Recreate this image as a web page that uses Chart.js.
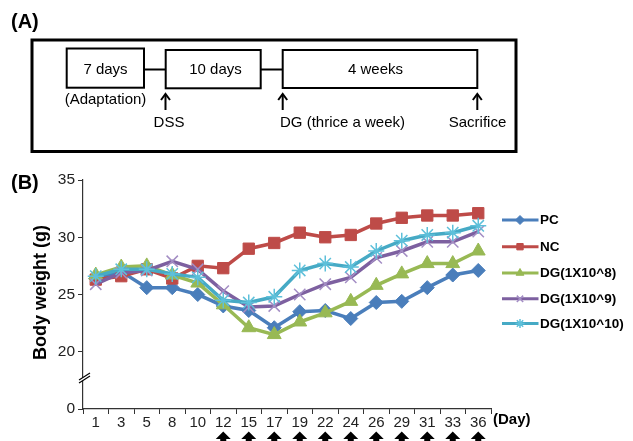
<!DOCTYPE html>
<html>
<head>
<meta charset="utf-8">
<script src="https://cdn.jsdelivr.net/npm/chart.js@4.4.1/dist/chart.umd.min.js"></script>
<style>
  html, body { margin: 0; padding: 0; background: #fff; }
  #wrap { position: relative; width: 633px; height: 441px; }
</style>
</head>
<body>
<div id="wrap"><canvas id="chart" width="633" height="441"></canvas></div>
<script>
// Day labels on the x axis
const days = ["1", "3", "5", "8", "10", "12", "15", "17", "19", "22", "24", "26", "29", "31", "33", "36"];
// Body weight (g) per group
const pcWeight   = [26.4, 27.0, 25.6, 25.6, 25.0, 24.0, 23.6, 22.1, 23.5, 23.6, 22.9, 24.3, 24.4, 25.6, 26.7, 27.1];
const ncWeight   = [26.3, 26.6, 27.2, 26.4, 27.5, 27.3, 29.0, 29.5, 30.4, 30.0, 30.2, 31.2, 31.7, 31.9, 31.9, 32.1];
const dg8Weight  = [26.7, 27.4, 27.5, 26.7, 26.0, 24.1, 22.1, 21.5, 22.6, 23.4, 24.4, 25.8, 26.8, 27.7, 27.7, 28.8];
const dg9Weight  = [25.9, 26.9, 27.1, 27.9, 27.2, 25.3, 23.9, 24.0, 25.0, 25.9, 26.5, 28.2, 28.8, 29.6, 29.6, 30.5];
const dg10Weight = [26.6, 27.2, 27.2, 26.8, 26.5, 24.5, 24.3, 24.8, 27.1, 27.7, 27.4, 28.8, 29.7, 30.2, 30.4, 31.0];
const seriesNames = ["PC", "NC", "DG(1X10^8)", "DG(1X10^9)", "DG(1X10^10)"];
// DG dosing days (arrows under the axis)
const doseDays = ["12", "15", "17", "19", "22", "24", "26", "29", "31", "33", "36"];
// Timeline of panel A
const stepLabels = ["7 days", "10 days", "4 weeks"];
const eventLabels = ["DSS", "DG (thrice a week)", "Sacrifice"];

const FONT = "Arial, 'Liberation Sans', sans-serif";

function makeSet(label, data, color, style, radius, markColor, bw) {
  return {
    label: label,
    data: data,
    borderColor: color,
    backgroundColor: color,
    borderWidth: 3.5,
    pointStyle: style,
    pointRadius: radius,
    pointBackgroundColor: markColor,
    pointBorderColor: markColor,
    pointBorderWidth: bw,
    tension: 0
  };
}

const datasets = [
  makeSet(seriesNames[0], pcWeight, "#4A7EBB", "rectRot", 7, "#4A7EBB", 1),
  makeSet(seriesNames[1], ncWeight, "#BE4B48", "rect", 8, "#BE4B48", 1),
  makeSet(seriesNames[2], dg8Weight, "#98B954", "triangle", 8, "#98B954", 1),
  makeSet(seriesNames[3], dg9Weight, "#7D60A0", "crossRot", 8, "#A38DC4", 1.5),
  makeSet(seriesNames[4], dg10Weight, "#46AAC5", "star", 8, "#5EC0DA", 1.5)
];
// later series drawn on top
datasets.forEach((d, i) => { d.order = datasets.length - i; });

function line(ctx, x1, y1, x2, y2) {
  ctx.beginPath();
  ctx.moveTo(x1, y1);
  ctx.lineTo(x2, y2);
  ctx.stroke();
}

function upArrow(ctx, x, y) {
  // thin open arrow of panel A
  line(ctx, x, y, x, y + 16);
  ctx.beginPath();
  ctx.moveTo(x - 4.5, y + 6);
  ctx.lineTo(x, y);
  ctx.lineTo(x + 4.5, y + 6);
  ctx.stroke();
}

const extras = {
  id: "extras",
  afterDraw(chart) {
    const ctx = chart.ctx;
    const xs = chart.scales.x;
    ctx.save();
    ctx.fillStyle = "#000";
    ctx.strokeStyle = "#000";

    // ---- panel A: timeline
    ctx.font = "bold 20px " + FONT;
    ctx.textBaseline = "middle";
    ctx.textAlign = "left";
    ctx.fillText("(A)", 11, 22);

    ctx.lineWidth = 3;
    ctx.strokeRect(32, 40, 484, 111.5);
    ctx.lineWidth = 2;
    const boxes = [[66.7, 48.5, 77.3, 39.2], [165.7, 50, 95, 38.3], [282.7, 50, 194.6, 38]];
    boxes.forEach(b => ctx.strokeRect(b[0], b[1], b[2], b[3]));
    line(ctx, 144, 69.5, 165.7, 69.5);
    line(ctx, 260.7, 69.5, 282.7, 69.5);

    ctx.font = "15px " + FONT;
    ctx.textAlign = "center";
    ctx.fillText(stepLabels[0], 105.5, 70);
    ctx.fillText(stepLabels[1], 215.5, 70);
    ctx.fillText(stepLabels[2], 375.5, 70);
    ctx.fillText("(Adaptation)", 105.5, 100);

    upArrow(ctx, 165.5, 94);
    upArrow(ctx, 282.7, 94);
    upArrow(ctx, 477.3, 94);
    ctx.fillText(eventLabels[0], 169, 123);
    ctx.textAlign = "left";
    ctx.fillText(eventLabels[1], 280, 123);
    ctx.textAlign = "center";
    ctx.fillText(eventLabels[2], 477.5, 123);

    // ---- panel B extras
    ctx.font = "bold 20px " + FONT;
    ctx.textAlign = "left";
    ctx.fillText("(B)", 11, 183);

    ctx.save();
    ctx.translate(41.5, 292.5);
    ctx.rotate(-Math.PI / 2);
    ctx.font = "bold 18px " + FONT;
    ctx.textAlign = "center";
    ctx.fillText("Body weight (g)", 0, 0);
    ctx.restore();

    ctx.font = "bold 15px " + FONT;
    ctx.textAlign = "left";
    ctx.fillText("(Day)", 493, 420);

    // axis break
    ctx.fillStyle = "#fff";
    ctx.beginPath();
    ctx.moveTo(79, 380); ctx.lineTo(90, 373); ctx.lineTo(90, 376); ctx.lineTo(79, 383);
    ctx.closePath();
    ctx.fill();
    ctx.strokeStyle = "#000";
    ctx.lineWidth = 1.2;
    line(ctx, 79, 380, 90, 373);
    line(ctx, 79, 383, 90, 376);

    // dosing arrows
    ctx.fillStyle = "#000";
    doseDays.forEach(d => {
      const x = xs.getPixelForValue(days.indexOf(d));
      ctx.beginPath();
      ctx.moveTo(x, 431.5);
      ctx.lineTo(x + 7.5, 439);
      ctx.lineTo(x + 3, 439);
      ctx.lineTo(x + 3, 442);
      ctx.lineTo(x - 3, 442);
      ctx.lineTo(x - 3, 439);
      ctx.lineTo(x - 7.5, 439);
      ctx.closePath();
      ctx.fill();
    });

    // legend
    const legY = [220, 246.7, 273, 298.8, 323.5];
    ctx.font = "bold 13.5px " + FONT;
    ctx.textBaseline = "middle";
    chart.data.datasets.forEach((ds, i) => {
      const y = legY[i];
      ctx.strokeStyle = ds.borderColor;
      ctx.lineWidth = 3;
      line(ctx, 502, y, 538.5, y);
      ctx.fillStyle = ds.pointBackgroundColor;
      ctx.strokeStyle = ds.pointBorderColor;
      ctx.lineWidth = ds.pointBorderWidth;
      Chart.helpers.drawPoint(ctx, {
        pointStyle: ds.pointStyle,
        radius: 4.5,
        borderWidth: ds.pointBorderWidth,
        rotation: 0
      }, 520, y);
      ctx.fillStyle = "#000";
      ctx.fillText(ds.label, 540, y + 0.5);
    });
    ctx.restore();
  }
};

new Chart(document.getElementById("chart"), {
  type: "line",
  data: { labels: days, datasets: datasets },
  options: {
    responsive: false,
    animation: false,
    events: [],
    layout: { padding: { top: 180, right: 142, bottom: 0, left: 0 } },
    plugins: { legend: { display: false }, tooltip: { enabled: false } },
    scales: {
      x: {
        offset: true,
        afterFit: s => { s.height = 32; },
        grid: { offset: true, drawOnChartArea: false, tickLength: 5, color: "#333" },
        border: { color: "#333", width: 1.2 },
        ticks: { color: "#222", font: { family: FONT, size: 15 }, padding: 0, maxRotation: 0, autoSkip: false }
      },
      y: {
        min: 15,
        max: 35,
        afterFit: s => { s.width = 83; },
        grid: { drawOnChartArea: false, tickLength: 5, color: "#333" },
        border: { color: "#333", width: 1.2 },
        ticks: {
          stepSize: 5,
          color: "#222",
          padding: 3,
          font: { family: FONT, size: 15.5 },
          callback: v => (v === 15 ? "0" : v)
        }
      }
    }
  },
  plugins: [extras]
});
</script>
</body>
</html>
